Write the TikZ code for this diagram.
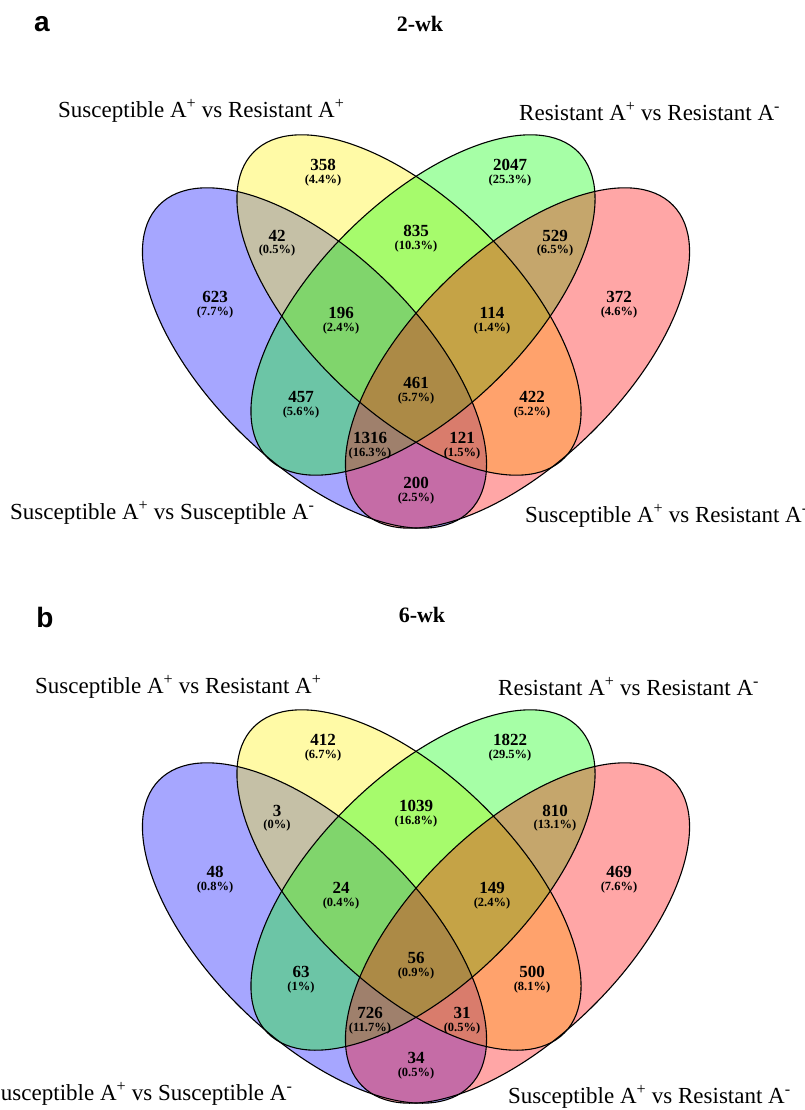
\documentclass[tikz,border=0pt]{standalone}
\usepackage{fontspec}
\setmainfont{Liberation Serif}
\newfontfamily\panelfont{Liberation Sans}
\newcommand\vennfill[4]{\fill[#1,vset,rotate around={#4:(#2,#3)}] (#2,#3) ellipse [x radius=218pt, y radius=105pt];}
\newcommand\vennline[3]{\draw[voutline,rotate around={#3:(#1,#2)}] (#1,#2) ellipse [x radius=218pt, y radius=105pt];}
\newcommand\vcnt[5]{\node[numtxt] (#1) at (#2,#3) {#4};\node[pcttxt] (#1p) at (#2,#3+15) {(#5\%)};}
\newcommand\setlab[4]{\node[settxt] (#1) at (#2,#3) {#4};}
\newcommand\Ap{A\textsuperscript{+}}
\newcommand\Am{A\textsuperscript{-}}
\begin{document}
\begin{tikzpicture}[x=1pt,y=-1pt,
  vset/.style={fill opacity=0.35},
  voutline/.style={draw=black, line width=1.1pt},
  numtxt/.style={font=\fontsize{17}{18}\selectfont\bfseries, inner sep=0pt},
  pcttxt/.style={font=\fontsize{12.5}{14}\selectfont\bfseries, inner sep=0pt},
  settxt/.style={font=\fontsize{23}{26}\selectfont, inner sep=0pt, anchor=west},
  ttltxt/.style={font=\fontsize{22}{24}\selectfont\bfseries, inner sep=0pt},
  pnltxt/.style={font=\panelfont\fontsize{28}{30}\selectfont\bfseries, inner sep=0pt}]
\useasboundingbox (0,0) rectangle (805,1110);
\fill[white] (0,0) rectangle (805,1110);
\clip (0,0) rectangle (805,1110);

% ---------- panel a ----------
\begin{scope}
  \vennfill{blue}{314.5}{358}{-44.5}
  \vennfill{yellow}{409}{305}{-44.5}
  \vennfill{green}{423}{305}{44.5}
  \vennfill{red}{517.5}{358}{44.5}
  \vennline{314.5}{358}{-44.5}
  \vennline{409}{305}{-44.5}
  \vennline{423}{305}{44.5}
  \vennline{517.5}{358}{44.5}
  \vcnt{a358}{323}{165}{358}{4.4}
  \vcnt{a2047}{510}{165}{2047}{25.3}
  \vcnt{a42}{277}{235.5}{42}{0.5}
  \vcnt{a835}{416}{231}{835}{10.3}
  \vcnt{a529}{555}{235.5}{529}{6.5}
  \vcnt{a623}{215}{297}{623}{7.7}
  \vcnt{a372}{619}{297}{372}{4.6}
  \vcnt{a196}{341}{313}{196}{2.4}
  \vcnt{a114}{492}{313}{114}{1.4}
  \vcnt{a461}{416}{383}{461}{5.7}
  \vcnt{a457}{301}{397}{457}{5.6}
  \vcnt{a422}{532}{397}{422}{5.2}
  \vcnt{a1316}{370}{438}{1316}{16.3}
  \vcnt{a121}{462}{438}{121}{1.5}
  \vcnt{a200}{416}{483}{200}{2.5}
\end{scope}

% ---------- panel b ----------
\begin{scope}[shift={(0,575)}]
  \vennfill{blue}{314.5}{358}{-44.5}
  \vennfill{yellow}{409}{305}{-44.5}
  \vennfill{green}{423}{305}{44.5}
  \vennfill{red}{517.5}{358}{44.5}
  \vennline{314.5}{358}{-44.5}
  \vennline{409}{305}{-44.5}
  \vennline{423}{305}{44.5}
  \vennline{517.5}{358}{44.5}
  \vcnt{b412}{323}{165}{412}{6.7}
  \vcnt{b1822}{510}{165}{1822}{29.5}
  \vcnt{b3}{277}{235.5}{3}{0}
  \vcnt{b1039}{416}{231}{1039}{16.8}
  \vcnt{b810}{555}{235.5}{810}{13.1}
  \vcnt{b48}{215}{297}{48}{0.8}
  \vcnt{b469}{619}{297}{469}{7.6}
  \vcnt{b24}{341}{313}{24}{0.4}
  \vcnt{b149}{492}{313}{149}{2.4}
  \vcnt{b56}{416}{383}{56}{0.9}
  \vcnt{b63}{301}{397}{63}{1}
  \vcnt{b500}{532}{397}{500}{8.1}
  \vcnt{b726}{370}{438}{726}{11.7}
  \vcnt{b31}{462}{438}{31}{0.5}
  \vcnt{b34}{416}{483}{34}{0.5}
\end{scope}

% ---------- titles, panel letters, set labels ----------
\node[pnltxt] (pa) at (42,24) {a};
\node[pnltxt] (pb) at (45,617) {b};
\node[ttltxt] (ta) at (420,24) {2-wk};
\node[ttltxt] (tb) at (422,615) {6-wk};

\setlab{aTL}{58}{111}{Susceptible \Ap{} vs Resistant \Ap}
\setlab{aTR}{519}{112}{Resistant \Ap{} vs Resistant \Am}
\setlab{aBL}{10}{513}{Susceptible \Ap{} vs Susceptible \Am}
\setlab{aBR}{525}{516}{Susceptible \Ap{} vs Resistant \Am}

\setlab{bTL}{35}{687}{Susceptible \Ap{} vs Resistant \Ap}
\setlab{bTR}{498}{687}{Resistant \Ap{} vs Resistant \Am}
\setlab{bBL}{-12}{1094}{Susceptible \Ap{} vs Susceptible \Am}
\setlab{bBR}{508}{1097}{Susceptible \Ap{} vs Resistant \Am}
\end{tikzpicture}
\end{document}
